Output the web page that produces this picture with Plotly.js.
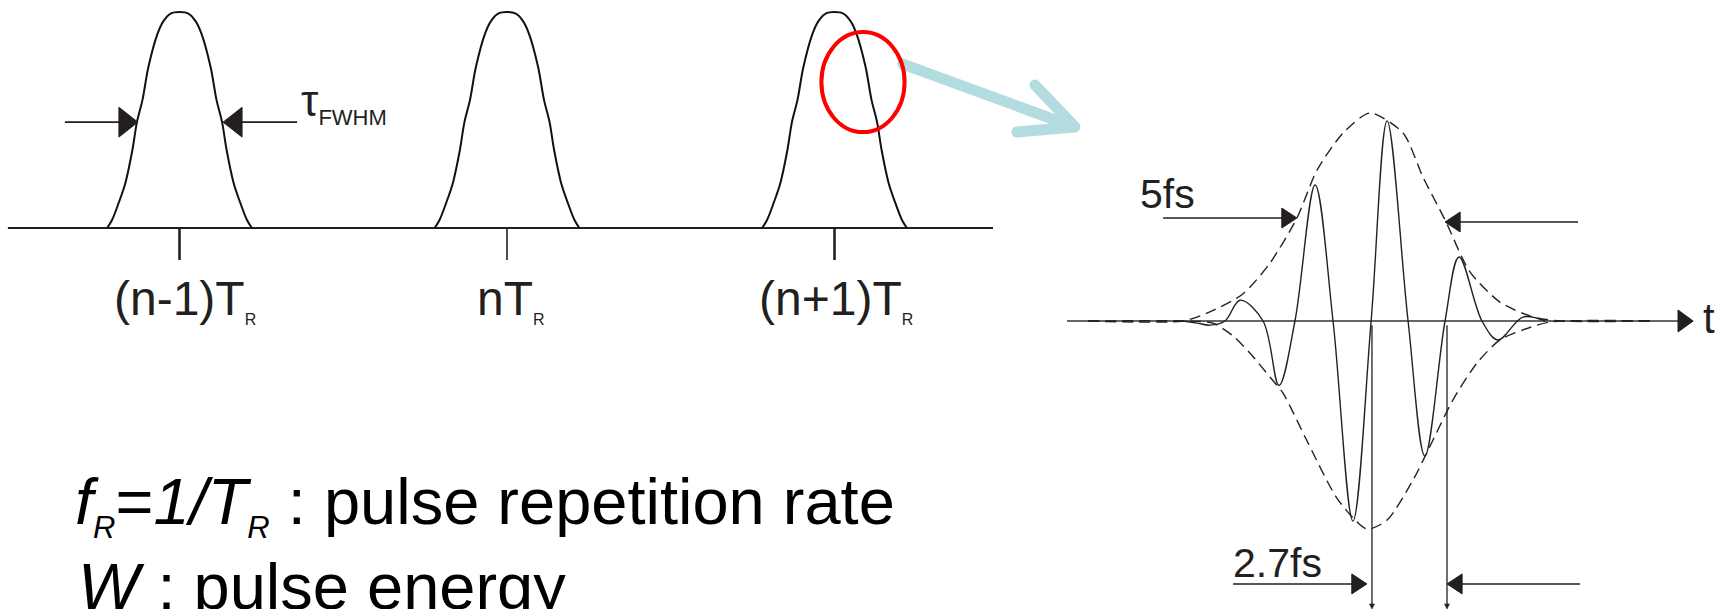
<!DOCTYPE html>
<html><head><meta charset="utf-8">
<script src="https://cdn.plot.ly/plotly-3.0.1.min.js"></script>
<style>html,body{margin:0;padding:0;background:#fff;overflow:hidden}#chart{width:1720px;height:609px}</style>
</head><body><div id="chart"></div>
<script>
// ---------- Left panel: pulse train (x in units of T_R, y = normalised intensity)
const pulseCenters = [-1, 0, 1];
const pulseLabels = ['(n-1)T', 'nT', '(n+1)T'];
const profileOffset = [0, 0.027, 0.049, 0.067, 0.095, 0.113, 0.130, 0.144, 0.165, 0.186, 0.206, 0.221];
const profileAmp    = [1, 0.993, 0.958, 0.90, 0.745, 0.593, 0.49, 0.36, 0.21, 0.115, 0.037, 0];
const baselineX = [-1.524, 1.484];
const fwhmEdges = [-0.127, 0.133];      // half-maximum crossing points of a pulse (T_R units)
const halfMax = 0.49;

// ---------- Right panel: few-cycle pulse (t in fs, normalised field)
const carrierT = [-6.68, -6.18, -5.71, -5.18, -4.64, -3.82, -3.25, -2.68, -1.96, -1.32, -0.61, 0.04, 0.61, 1.36, 1.96, 2.68, 3.18, 4.0, 4.57, 5.46, 6.25];
const carrierE = [0, -0.01, -0.02, 0, 0.10, 0, -0.31, 0, 0.654, 0, -0.962, 0, 0.962, 0, -0.649, 0, 0.308, 0, -0.091, 0.019, 0];
const envUpT = [-10.07, -6.68, -5.82, -4.54, -3.57, -2.61, -1.89, -0.96, 0, 1.18, 1.89, 2.68, 3.57, 4.64, 5.82, 6.79, 10.11];
const envUpE = [0, 0, 0.038, 0.13, 0.279, 0.495, 0.726, 0.904, 1.0, 0.904, 0.692, 0.486, 0.236, 0.091, 0.019, 0, 0];
const envLoT = [-10.07, -6.68, -5.61, -4.89, -4.29, -3.57, -3.11, -2.21, -1.14, -0.11, 0.61, 1.54, 2.25, 2.96, 3.82, 4.64, 5.46, 6.43, 10.11];
const envLoE = [0, 0, -0.01, -0.072, -0.154, -0.27, -0.346, -0.587, -0.86, -1.0, -0.957, -0.764, -0.572, -0.38, -0.202, -0.091, -0.043, -0.005, 0];
const tAxis = [-10.82, 11.0];
const fwhmT = [-2.61, 2.68];            // 5 fs envelope FWHM points
const fwhmE = [0.495, 0.476];
const periodT = [0.07, 2.75];           // 2.7 fs optical period markers
const periodLevel = -1.264;

// ---------- layout helpers (pixel geometry of the 1720x609 canvas)
const W = 1720, H = 609;
const FONT = 'Liberation Sans, Arial, sans-serif';
const INK = '#231f20';
const px2x = p => p / W;
const base2y = (b, f, extra) => 1 - (b + 0.212 * f + 2 + (extra || 0)) / H;

const traces = [];
// baseline
traces.push({x: baselineX, y: [0, 0], mode: 'lines', line: {color: INK, width: 2}, xaxis: 'x', yaxis: 'y', hoverinfo: 'skip'});
// pulses
pulseCenters.forEach(c => {
  const xs = [], ys = [];
  for (let i = profileOffset.length - 1; i >= 0; i--) { xs.push(c - profileOffset[i]); ys.push(profileAmp[i]); }
  for (let i = 1; i < profileOffset.length; i++) { xs.push(c + profileOffset[i]); ys.push(profileAmp[i]); }
  traces.push({x: xs, y: ys, mode: 'lines', line: {color: '#111', width: 2, shape: 'spline', smoothing: 0.9}, xaxis: 'x', yaxis: 'y', hoverinfo: 'skip'});
});
// right panel: axis, envelope, carrier
traces.push({x: tAxis, y: [0, 0], mode: 'lines', line: {color: '#333', width: 1.5}, xaxis: 'x2', yaxis: 'y2', hoverinfo: 'skip'});
traces.push({x: envUpT, y: envUpE, mode: 'lines', line: {color: '#222', width: 1.4, dash: '11px,6px', shape: 'spline', smoothing: 0.7}, xaxis: 'x2', yaxis: 'y2', hoverinfo: 'skip'});
traces.push({x: envLoT, y: envLoE, mode: 'lines', line: {color: '#222', width: 1.4, dash: '11px,6px', shape: 'spline', smoothing: 0.7}, xaxis: 'x2', yaxis: 'y2', hoverinfo: 'skip'});
traces.push({x: carrierT, y: carrierE, mode: 'lines', line: {color: '#222', width: 1.4, shape: 'spline', smoothing: 1}, xaxis: 'x2', yaxis: 'y2', hoverinfo: 'skip'});
// period marker verticals
periodT.forEach(t => traces.push({x: [t, t], y: [-0.02, -1.375], mode: 'lines', line: {color: '#222', width: 1.3}, xaxis: 'x2', yaxis: 'y2', hoverinfo: 'skip'}));

// ---------- shapes
const shapes = [];
const tri = (xref, yref, tx, ty, dx, hy) => ({type: 'path', xref, yref,
  path: `M${tx},${ty} L${tx + dx},${ty + hy} L${tx + dx},${ty - hy} Z`, fillcolor: INK, line: {color: INK, width: 1}});
const seg = (xref, yref, x0, y0, x1, y1, w, col) => ({type: 'line', xref, yref, x0, y0, x1, y1, line: {color: col || INK, width: w}});
// ticks
pulseCenters.forEach((c, i) => shapes.push(seg('x', 'y', c, 0, c, -0.148, i === 1 ? 1.6 : 2.6)));
// tau FWHM arrows (left pulse)
const c0 = pulseCenters[0];
shapes.push(seg('x', 'y', -1.350, halfMax, c0 + fwhmEdges[0] - 0.05, halfMax, 1.6));
shapes.push(tri('x', 'y', c0 + fwhmEdges[0], halfMax, -0.058, 0.069));
shapes.push(seg('x', 'y', c0 + fwhmEdges[1] + 0.05, halfMax, -0.641, halfMax, 1.6));
shapes.push(tri('x', 'y', c0 + fwhmEdges[1], halfMax, 0.058, 0.069));
// light blue zoom arrow
shapes.push({type: 'path', xref: 'x', yref: 'y', path: 'M1.209,0.759 L1.725,0.472', line: {color: '#b3dce0', width: 11}});
shapes.push({type: 'path', xref: 'x', yref: 'y', path: 'M1.612,0.662 L1.734,0.468 L1.557,0.444', line: {color: '#b3dce0', width: 11}});
// red ellipse
shapes.push({type: 'circle', xref: 'x', yref: 'y', x0: 0.960, x1: 1.214, y0: 0.444, y1: 0.907, line: {color: '#ff0000', width: 4}});
// t axis arrow head
shapes.push(tri('x2', 'y2', 11.54, 0, -0.54, 0.053));
// 5 fs arrows
shapes.push(seg('x2', 'y2', -7.39, fwhmE[0], fwhmT[0] - 0.4, fwhmE[0], 1.5));
shapes.push(tri('x2', 'y2', fwhmT[0], fwhmE[0], -0.54, 0.048));
shapes.push(seg('x2', 'y2', fwhmT[1] + 0.4, fwhmE[1], 7.43, fwhmE[1], 1.5));
shapes.push(tri('x2', 'y2', fwhmT[1], fwhmE[1], 0.54, 0.048));
// 2.7 fs arrows
shapes.push(seg('x2', 'y2', -4.89, periodLevel, periodT[0] - 0.18 - 0.4, periodLevel, 1.5));
shapes.push(tri('x2', 'y2', periodT[0] - 0.18, periodLevel, -0.54, 0.048));
shapes.push(seg('x2', 'y2', periodT[1] + 0.4, periodLevel, 7.5, periodLevel, 1.5));
shapes.push(tri('x2', 'y2', periodT[1], periodLevel, 0.54, 0.048));
// tiny arrow tips on period markers
periodT.forEach(t => shapes.push({type: 'path', xref: 'x2', yref: 'y2', path: `M${t},-1.385 L${t - 0.09},-1.36 L${t + 0.09},-1.36 Z`, fillcolor: INK, line: {color: INK, width: 0.5}}));

// ---------- annotations
const ann = [];
const txt = (text, xp, basePx, size, xanchor, extra, color) => ann.push({
  text, xref: 'paper', yref: 'paper', x: xanchor === 'center' ? xp : px2x(xp - 3), y: base2y(basePx, size, extra),
  xanchor: xanchor || 'left', yanchor: 'bottom', showarrow: false, font: {family: FONT, size, color: color || INK}, borderpad: 0});
const lblPx = [181, 507, 832];
pulseLabels.forEach((l, i) => txt(l + "<sub><span style='font-size:16px'>R</span></sub>", px2x(lblPx[i] + 4), 314, 48, 'center', 3));
txt("τ<sub><span style='font-size:22px'>FWHM</span></sub>", 303, 118, 44, 'left', 2);
txt('5fs', 1142, 207, 41, 'left');
txt('2.7fs', 1235, 576, 41, 'left');
txt('t', 1705, 332, 42, 'left');
txt("<i>f</i><sub><span style='font-size:31px'><i>R</i></span></sub>=<i>1/T</i><sub><span style='font-size:31px'><i>R</i></span></sub> : pulse repetition rate", 77, 522, 65, 'left', 8, '#000');
txt("<i>W</i> : pulse energy", 80, 608, 65, 'left', 0, '#000');

const layout = {
  width: W, height: H, margin: {l: 0, r: 0, t: 0, b: 0, pad: 0},
  paper_bgcolor: '#fff', plot_bgcolor: 'rgba(0,0,0,0)', showlegend: false,
  xaxis: {domain: [0, 1], range: [-507 / 327.5, (W - 507) / 327.5], visible: false, fixedrange: true},
  yaxis: {domain: [0, 1], range: [(228 - H) / 216, 228 / 216], visible: false, fixedrange: true},
  xaxis2: {domain: [0, 1], range: [-1370 / 28, (W - 1370) / 28], visible: false, overlaying: 'x', fixedrange: true},
  yaxis2: {domain: [0, 1], range: [(321 - H) / 208, 321 / 208], visible: false, overlaying: 'y', fixedrange: true},
  shapes, annotations: ann
};
Plotly.newPlot('chart', traces, layout, {staticPlot: true, displayModeBar: false}).then(() => {
  document.querySelectorAll('.shapelayer path').forEach(p => {
    const s = (p.style.stroke || '') + '';
    if (s.indexOf('179') >= 0 || s.indexOf('b3dce0') >= 0) { p.style.strokeLinecap = 'round'; p.style.strokeLinejoin = 'round'; }
  });
});
</script></body></html>
